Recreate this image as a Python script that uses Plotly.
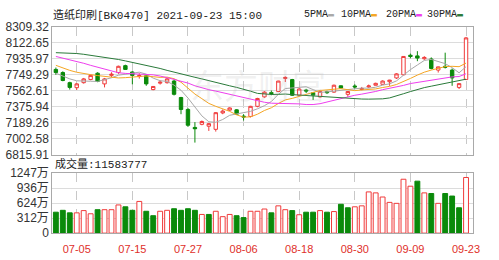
import plotly.graph_objects as go

dates = ["2021-06-30", "2021-07-01", "2021-07-02",
         "2021-07-05", "2021-07-06", "2021-07-07", "2021-07-08", "2021-07-09",
         "2021-07-12", "2021-07-13", "2021-07-14", "2021-07-15", "2021-07-16",
         "2021-07-19", "2021-07-20", "2021-07-21", "2021-07-22", "2021-07-23",
         "2021-07-26", "2021-07-27", "2021-07-28", "2021-07-29", "2021-07-30",
         "2021-08-02", "2021-08-03", "2021-08-04", "2021-08-05", "2021-08-06",
         "2021-08-09", "2021-08-10", "2021-08-11", "2021-08-12", "2021-08-13",
         "2021-08-16", "2021-08-17", "2021-08-18", "2021-08-19", "2021-08-20",
         "2021-08-23", "2021-08-24", "2021-08-25", "2021-08-26", "2021-08-27",
         "2021-08-30", "2021-08-31", "2021-09-01", "2021-09-02", "2021-09-03",
         "2021-09-06", "2021-09-07", "2021-09-08", "2021-09-09", "2021-09-10",
         "2021-09-13", "2021-09-14", "2021-09-15", "2021-09-16", "2021-09-17",
         "2021-09-22", "2021-09-23"]

open_ = [7809.5, 7773.1, 7655.0, 7596.4, 7655.0, 7691.4, 7765.4, 7640.6, 7740.0, 7773.1,
         7853.7, 7779.7, 7726.7, 7735.5, 7574.4, 7649.4, 7655.0, 7673.7, 7481.6, 7342.5,
         7132.8, 7169.2, 7147.1, 7110.7, 7301.7, 7334.8, 7338.1, 7265.2, 7260.8, 7379.0,
         7489.4, 7539.0, 7552.3, 7704.6, 7691.4, 7508.1, 7568.8, 7536.8, 7489.4, 7550.1,
         7544.6, 7618.5, 7519.2, 7616.3, 7575.5, 7605.3, 7625.1, 7636.2, 7666.0, 7710.2,
         7746.6, 7975.1, 7967.4, 7934.3, 7931.0, 7801.8, 7845.9, 7801.8, 7599.8, 7691.4]
high = [7831.6, 7787.4, 7666.0, 7649.4, 7710.2, 7748.8, 7776.4, 7710.2, 7776.4, 7853.7,
        7864.7, 7787.4, 7765.4, 7743.3, 7616.3, 7682.6, 7710.2, 7688.1, 7489.4, 7360.2,
        7194.6, 7213.4, 7185.8, 7312.7, 7342.5, 7367.9, 7345.8, 7287.3, 7384.5, 7478.3,
        7555.6, 7563.3, 7677.0, 7728.9, 7699.1, 7588.7, 7583.2, 7544.6, 7561.1, 7561.1,
        7632.9, 7621.8, 7555.6, 7636.2, 7605.3, 7632.9, 7655.0, 7682.6, 7688.1, 7765.4,
        7964.1, 7993.9, 8022.6, 7964.1, 7949.7, 7842.6, 8004.9, 7820.6, 7649.4, 8188.2]
low = [7746.6, 7671.5, 7574.4, 7569.9, 7643.9, 7682.6, 7660.5, 7599.8, 7721.2, 7757.6,
       7804.0, 7636.2, 7702.4, 7618.5, 7566.6, 7632.9, 7643.9, 7505.9, 7287.3, 7139.4,
       6956.1, 7158.2, 7091.9, 7084.2, 7287.3, 7323.8, 7279.6, 7213.4, 7249.8, 7367.9,
       7478.3, 7508.1, 7544.6, 7662.7, 7500.4, 7500.4, 7533.5, 7452.9, 7481.6, 7522.5,
       7536.8, 7588.7, 7489.4, 7581.0, 7566.6, 7594.2, 7621.8, 7632.9, 7618.5, 7699.1,
       7743.3, 7938.7, 7905.6, 7919.9, 7809.5, 7773.1, 7820.6, 7618.5, 7581.0, 7688.1]
close = [7773.1, 7680.3, 7599.8, 7640.6, 7699.1, 7740.0, 7669.3, 7699.1, 7754.3, 7845.9,
         7809.5, 7740.0, 7737.8, 7640.6, 7610.8, 7660.5, 7699.1, 7519.2, 7342.5, 7158.2,
         7117.3, 7202.3, 7176.9, 7305.0, 7323.8, 7360.2, 7287.3, 7254.2, 7379.0, 7470.6,
         7544.6, 7528.0, 7673.7, 7715.7, 7508.1, 7581.0, 7557.8, 7508.1, 7552.3, 7539.0,
         7625.1, 7592.0, 7552.3, 7605.3, 7586.5, 7616.3, 7647.2, 7673.7, 7684.8, 7757.6,
         7960.8, 7960.8, 7942.0, 7949.7, 7820.6, 7839.3, 7834.9, 7710.2, 7643.9, 8177.1]

ma5 = [7765.4, 7732.2, 7699.1, 7677.0, 7678.1, 7671.5, 7669.3, 7689.2, 7712.4, 7742.2,
       7755.4, 7769.8, 7777.5, 7754.3, 7707.9, 7678.1, 7669.3, 7626.3, 7566.6, 7476.1,
       7366.8, 7267.5, 7199.0, 7192.4, 7225.5, 7274.1, 7290.6, 7306.1, 7320.4, 7350.2,
       7386.7, 7435.3, 7519.2, 7586.5, 7594.2, 7600.9, 7607.5, 7574.4, 7541.3, 7547.9,
       7556.7, 7563.3, 7572.2, 7583.2, 7592.0, 7590.9, 7602.0, 7626.3, 7641.7, 7675.9,
       7744.4, 7807.3, 7861.4, 7914.4, 7926.5, 7902.2, 7876.9, 7830.5, 7769.8, 7841.5]
ma10 = [7857.0, 7826.1, 7798.5, 7776.4, 7759.8, 7748.8, 7737.8, 7730.0, 7721.2, 7710.2,
        7713.5, 7720.1, 7733.3, 7733.3, 7724.5, 7716.8, 7720.1, 7701.3, 7660.5, 7592.0,
        7522.5, 7468.4, 7413.2, 7379.0, 7350.2, 7320.4, 7279.6, 7253.1, 7256.4, 7287.3,
        7330.4, 7362.4, 7412.1, 7454.0, 7471.7, 7493.8, 7521.4, 7546.8, 7564.5, 7571.1,
        7578.8, 7585.4, 7573.3, 7562.3, 7570.0, 7573.3, 7582.1, 7598.7, 7611.9, 7634.0,
        7667.1, 7704.6, 7743.3, 7777.5, 7801.8, 7823.9, 7842.6, 7845.9, 7841.5, 7883.5]
ma20 = [7960.8, 7942.0, 7925.4, 7903.4, 7881.3, 7857.0, 7834.9, 7812.8, 7787.4, 7770.9,
        7763.2, 7759.8, 7757.6, 7752.1, 7746.6, 7732.2, 7715.7, 7693.6, 7671.5, 7650.6,
        7618.5, 7594.2, 7573.3, 7556.7, 7537.9, 7518.1, 7499.3, 7477.2, 7458.4, 7439.7,
        7426.4, 7415.4, 7413.2, 7416.5, 7411.0, 7407.6, 7399.9, 7399.9, 7409.8, 7429.7,
        7455.1, 7473.9, 7492.7, 7508.1, 7521.4, 7533.5, 7552.3, 7573.3, 7587.6, 7602.0,
        7623.0, 7645.0, 7658.3, 7670.4, 7685.9, 7698.0, 7712.4, 7722.3, 7726.7, 7758.7]
ma30 = [8004.9, 8002.7, 7999.4, 7995.0, 7986.2, 7975.1, 7964.1, 7953.0, 7942.0, 7925.4,
        7908.9, 7892.3, 7875.8, 7857.0, 7839.3, 7820.6, 7798.5, 7776.4, 7754.3, 7735.5,
        7717.9, 7699.1, 7677.0, 7655.0, 7636.2, 7618.5, 7599.8, 7581.0, 7555.6, 7530.2,
        7522.5, 7517.0, 7519.2, 7522.5, 7515.8, 7510.4, 7507.1, 7500.4, 7493.8, 7483.8,
        7477.2, 7472.8, 7466.2, 7465.1, 7464.0, 7462.9, 7460.7, 7466.2, 7477.2, 7497.1,
        7525.8, 7551.2, 7576.6, 7597.6, 7614.1, 7630.7, 7648.3, 7663.8, 7672.6, 7695.8]

# volume in 万 (10k shares)
volume = [436, 475, 422, 422, 469, 403, 488, 488, 488, 587,
          548, 475, 660, 455, 363, 455, 475, 508, 475, 508,
          475, 389, 389, 455, 343, 389, 363, 323, 455, 455,
          502, 422, 568, 488, 469, 383, 436, 436, 469, 436,
          449, 601, 528, 548, 568, 858, 838, 752, 640, 620,
          1122, 977, 1082, 838, 825, 620, 825, 772, 528, 1158.3777]
# 1 = red (up) volume bar, 0 = green (down) volume bar
vol_up = [0, 0, 0, 1, 1, 1, 0, 1, 1, 1,
          0, 0, 1, 0, 0, 1, 1, 0, 0, 0,
          0, 1, 0, 1, 1, 1, 0, 0, 1, 1,
          1, 0, 1, 1, 0, 1, 0, 0, 1, 0,
          1, 0, 0, 1, 1, 1, 1, 1, 1, 1,
          1, 1, 0, 1, 0, 1, 0, 0, 0, 1]

price_ticks = [6815.91, 7002.58, 7189.26, 7375.94, 7562.61, 7749.29, 7935.97, 8122.65, 8309.32]
vol_ticks = [0, 312, 624, 936, 1247]
vol_tick_text = ["0", "312万", "624万", "936万", "1247万"]
date_ticks = ["2021-07-05", "2021-07-15", "2021-07-27", "2021-08-06",
              "2021-08-18", "2021-08-30", "2021-09-09", "2021-09-23"]
date_tick_text = [d[5:] for d in date_ticks]

title_text = "造纸印刷[BK0470] 2021-09-23 15:00"
ma_names = ["5PMA", "10PMA", "20PMA", "30PMA"]
ma_colors = ["#a8a8a8", "#f5a623", "#ee3eee", "#2a7a3a"]

RED = "#f03a3a"
GREEN = "#0a8a0a"
W, H = 499, 260
X0, X1 = 53, 480
fx = lambda px: px / W
fy = lambda py: 1 - py / H

fig = go.Figure()

fig.add_trace(go.Candlestick(
    x=dates, open=open_, high=high, low=low, close=close,
    increasing=dict(line=dict(color=RED, width=1), fillcolor="white"),
    decreasing=dict(line=dict(color=GREEN, width=1), fillcolor=GREEN),
    whiskerwidth=0, xaxis="x", yaxis="y", showlegend=False, hoverinfo="skip"))

for vals, name, col in zip([ma5, ma10, ma20, ma30], ma_names, ma_colors):
    fig.add_trace(go.Scatter(x=dates, y=vals, mode="lines", name=name,
                             line=dict(color=col, width=1), xaxis="x", yaxis="y",
                             showlegend=False, hoverinfo="skip"))

fig.add_trace(go.Bar(
    x=dates, y=volume, width=0.7,
    marker=dict(color=["white" if u else GREEN for u in vol_up],
                line=dict(color=[RED if u else GREEN for u in vol_up], width=1)),
    xaxis="x2", yaxis="y2", showlegend=False, hoverinfo="skip"))

grid_col = "#dcdcdc"
border_col = "#a9a9a9"
tick_font = dict(family="Liberation Sans, Arial, Noto Sans CJK SC", size=12, color="#333333")
n = len(dates)
xrange_ = [-0.52, n - 1 + 1.04]

common_x = dict(type="category", range=xrange_, showgrid=True, gridcolor="#c8c8c8",
                griddash="dash", gridwidth=1, tickvals=date_ticks, ticktext=date_tick_text,
                showline=True, mirror=True, linecolor=border_col, linewidth=1,
                ticks="", zeroline=False, fixedrange=True)

fig.update_layout(
    width=W, height=H, margin=dict(l=0, r=0, t=0, b=0),
    paper_bgcolor="white", plot_bgcolor="white",
    xaxis=dict(domain=[fx(X0), fx(X1)], anchor="y", showticklabels=False,
               rangeslider=dict(visible=False), **common_x),
    xaxis2=dict(domain=[fx(X0), fx(X1)], anchor="y2", showticklabels=True,
                ticklabelstandoff=6,
                tickfont=dict(family="Liberation Sans, Arial", size=11, color="#e0302a"),
                **common_x),
    yaxis=dict(domain=[fy(156), fy(20.7)], range=[price_ticks[0], price_ticks[-1]],
               tickvals=price_ticks, ticktext=[f"{v:.2f}" for v in price_ticks],
               showgrid=True, gridcolor=grid_col, gridwidth=1, zeroline=False,
               showline=True, mirror=True, linecolor=border_col, linewidth=1,
               tickfont=tick_font, ticks="", fixedrange=True),
    yaxis2=dict(domain=[fy(239), fy(175.7)], range=[0, vol_ticks[-1]],
                tickvals=vol_ticks, ticktext=vol_tick_text,
                showgrid=True, gridcolor=grid_col, gridwidth=1, zeroline=False,
                showline=True, mirror=True, linecolor=border_col, linewidth=1,
                tickfont=tick_font, ticks="", fixedrange=True),
    bargap=0.3,
)

label_font = dict(family="Liberation Mono, Noto Sans CJK SC", size=11, color="#222222")
annotations = [
    dict(text=title_text, x=fx(52), y=fy(8), xref="paper", yref="paper",
         xanchor="left", yanchor="middle", showarrow=False, font=label_font),
    dict(text=f"成交量:{int(round(volume[-1] * 10000))}", x=fx(54), y=fy(166),
         xref="paper", yref="paper", xanchor="left", yanchor="middle",
         showarrow=False, font=label_font),
    dict(text="东方财富", x=fx(262), y=fy(82), xref="paper", yref="paper",
         xanchor="center", yanchor="middle", showarrow=False,
         font=dict(family="Noto Sans CJK SC", size=34, color="rgba(170,170,170,0.18)")),
]
leg_x = [306, 344, 389, 431]
for name, col, lx in zip(ma_names, ma_colors, leg_x):
    annotations.append(dict(
        text=f"{name}<span style='color:{col}'>▬</span>", x=fx(lx), y=fy(8),
        xref="paper", yref="paper", xanchor="left", yanchor="middle", showarrow=False,
        font=dict(family="Liberation Mono", size=10, color="#222222")))
fig.update_layout(annotations=annotations)

fig.write_html("out.html")
